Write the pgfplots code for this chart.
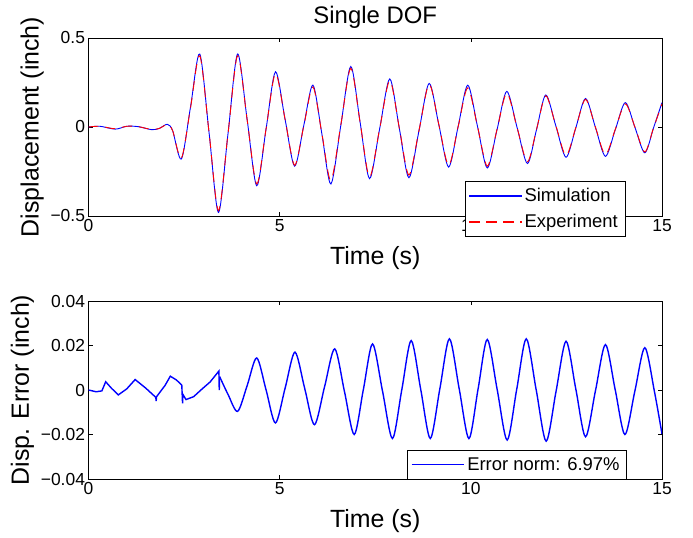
\documentclass[border=0pt]{standalone}
\usepackage{fontspec}
\setmainfont{Liberation Sans}
\usepackage{pgfplots}
\usepackage{pgfplotstable}
\pgfplotsset{compat=1.18}

% displacement: simulation and experiment (inch)
\pgfplotstableread{
t     sim     exp
0.00  0.000   0.000
0.30  0.004   0.004
0.70 -0.012  -0.010
1.00  0.004   0.004
1.30  0.002   0.002
1.65 -0.015  -0.014
1.85 -0.008  -0.008
2.06  0.015   0.013
2.20 -0.020  -0.020
2.43 -0.180  -0.175
2.67  0.115   0.110
2.91  0.410   0.400
3.155 -0.035 -0.035
3.40 -0.480  -0.470
3.65 -0.035  -0.035
3.90  0.410   0.400
4.15  0.040   0.040
4.40 -0.330  -0.320
4.645 -0.010 -0.010
4.89  0.310   0.300
5.14  0.045   0.045
5.39 -0.220  -0.215
5.63  0.008   0.005
5.87  0.235   0.225
6.105 -0.040 -0.038
6.34 -0.320  -0.300
6.60  0.010   0.012
6.86  0.340   0.330
7.105 0.025   0.025
7.35 -0.290  -0.280
7.615 -0.010 -0.010
7.88  0.270   0.260
8.13 -0.008  -0.006
8.38 -0.285  -0.270
8.645 -0.020 -0.018
8.91  0.245   0.240
9.165 0.010   0.012
9.42 -0.225  -0.215
9.67  0.005   0.004
9.92  0.235   0.220
10.175 0.003  0.002
10.43 -0.230 -0.220
10.685 -0.015 -0.014
10.94  0.200  0.190
11.21 -0.003 -0.004
11.48 -0.205 -0.195
11.72 -0.013 -0.012
11.96  0.180  0.175
12.225 0.005  0.006
12.49 -0.170 -0.160
12.745 -0.005 -0.004
13.00  0.160  0.155
13.26 -0.003 -0.002
13.52 -0.165 -0.155
13.78 -0.014 -0.012
14.04  0.137  0.130
14.295 -0.004 -0.002
14.55 -0.145 -0.140
14.78 -0.004 -0.004
15.00  0.137  0.130
}\disp

% displacement error, early part (sharp)
\pgfplotstableread{
t     err
0.00  0.0000
0.20 -0.0008
0.35 -0.0004
0.45  0.0037
0.60  0.0008
0.78 -0.0022
1.00  0.0005
1.22  0.0047
1.50  0.0008
1.76 -0.0033
1.77 -0.0050
1.78 -0.0030
2.00  0.0020
2.14  0.0062
2.30  0.0045
2.44  0.0022
2.46 -0.0060
2.47 -0.0020
2.55 -0.0043
2.75 -0.0030
2.96  0.0003
3.18  0.0036
3.41  0.0085
3.42  0.0000
3.43  0.0060
}\errA

% displacement error, oscillating part
\pgfplotstableread{
t      err
3.43   0.0060
3.65  -0.0020
3.90  -0.0096
4.15   0.0020
4.40   0.0144
4.645  0.0000
4.89  -0.0148
5.145  0.0010
5.40   0.0170
5.655  0.0007
5.91  -0.0156
6.175  0.0015
6.44   0.0185
6.695 -0.0007
6.95  -0.0200
7.19   0.0003
7.43   0.0207
7.69  -0.0005
7.95  -0.0218
8.195  0.0002
8.44   0.0222
8.69   0.0002
8.94  -0.0218
9.19   0.0006
9.44   0.0230
9.695  0.0006
9.95  -0.0218
10.19  0.0005
10.43  0.0227
10.69  0.0001
10.95 -0.0225
11.20  0.0003
11.45  0.0230
11.71  0.0000
11.97 -0.0230
12.23 -0.0005
12.49  0.0219
12.745 0.0005
13.00 -0.0210
13.26 -0.0003
13.52  0.0204
13.775 0.0002
14.03 -0.0200
14.29 -0.0005
14.55  0.0190
14.80 -0.0005
15.00 -0.0198
}\errB

\pgfplotsset{legend image code/.code={\draw[#1] (0bp,0bp) -- (52bp,0bp);}}

\begin{document}
\begin{tikzpicture}
\path[use as bounding box] (0,0) rectangle (693bp,538bp);
\pgfplotsset{
  every axis/.append style={
    scale only axis, width=573.5bp, height=178bp,
    xmin=0, xmax=15,
    xtick={0,5,10,15}, xticklabels={0,5,10,15},
    scaled y ticks=false,
    axis line style={black, line width=0.8bp},
    tick style={black, line width=0.6bp},
    tick align=inside,
    ticklabel style={font=\fontsize{17.5}{19}\selectfont},
    label style={font=\fontsize{25}{27}\selectfont},
    xlabel style={yshift=-8bp},
    title style={font=\fontsize{24}{26}\selectfont},
    legend style={fill=white,
      font=\fontsize{18.5}{22}\selectfont, legend cell align=left,
      inner xsep=4bp, inner ysep=3bp, row sep=3bp,
      nodes={inner ysep=4bp, inner xsep=3bp}},
  }
}
\begin{axis}[
  at={(88.5bp,322bp)}, anchor=south west,
  ymin=-0.5, ymax=0.5,
  ytick={-0.5,0,0.5}, yticklabels={−0.5,0,0.5},
  title={Single DOF},
  xlabel={Time (s)},
  ylabel={Displacement (inch)},
  legend style={at={(0.9354,-0.114)}, anchor=south east},
]
\addplot[blue, line width=0.9bp, smooth, forget plot] table[x=t, y=sim] {\disp};
\addplot[red, line width=0.9bp, smooth, dash pattern=on 10bp off 7bp, forget plot] table[x=t, y=exp] {\disp};
\addlegendimage{legend image code/.code={\color{blue}\pgfsetfillcolor{blue}%
  \fill[blue] (0bp,-0.45bp) rectangle (52bp,0.45bp);}}
\addlegendentry{Simulation}
\addlegendimage{legend image code/.code={\color{red}\pgfsetfillcolor{red}%
  \fill[red] (0bp,-0.45bp) rectangle (10bp,0.45bp)
             (17bp,-0.45bp) rectangle (27bp,0.45bp)
             (34bp,-0.45bp) rectangle (44bp,0.45bp)
             (51bp,-0.45bp) rectangle (52bp,0.45bp);}}
\addlegendentry{Experiment}
\end{axis}

\begin{axis}[
  at={(88.5bp,59bp)}, anchor=south west,
  ymin=-0.04, ymax=0.04,
  ytick={-0.04,-0.02,0,0.02,0.04},
  yticklabels={−0.04,−0.02,0,0.02,0.04},
  xlabel={Time (s)},
  ylabel={Disp. Error (inch)},
  legend style={at={(0.9385,0)}, anchor=south east},
]
\addplot[blue, line width=1.4bp] table[x=t, y=err] {\errA};
\addlegendentry{Error norm: 6.97\%}
\addplot[blue, line width=1.4bp, smooth, forget plot] table[x=t, y=err] {\errB};
\end{axis}
\end{tikzpicture}
\end{document}
